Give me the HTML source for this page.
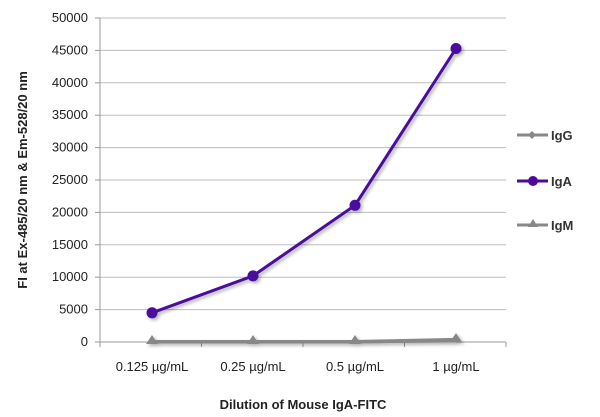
<!DOCTYPE html>
<html><head><style>body{margin:0;background:#fff}svg{display:block}text{font-family:"Liberation Sans",sans-serif}</style></head>
<body>
<svg width="600" height="417" viewBox="0 0 600 417" xmlns="http://www.w3.org/2000/svg">
<defs><filter id="sh" x="-10%" y="-10%" width="130%" height="130%"><feDropShadow dx="2" dy="2" stdDeviation="1.5" flood-color="#000" flood-opacity="0.3"/></filter></defs>
<g stroke="#bdbdbd" stroke-width="1">
<line x1="100" x2="506" y1="18" y2="18"/><line x1="100" x2="506" y1="50.4" y2="50.4"/><line x1="100" x2="506" y1="82.8" y2="82.8"/><line x1="100" x2="506" y1="115.2" y2="115.2"/><line x1="100" x2="506" y1="147.6" y2="147.6"/><line x1="100" x2="506" y1="180" y2="180"/><line x1="100" x2="506" y1="212.4" y2="212.4"/><line x1="100" x2="506" y1="244.8" y2="244.8"/><line x1="100" x2="506" y1="277.2" y2="277.2"/><line x1="100" x2="506" y1="309.6" y2="309.6"/>
</g>
<g stroke="#999" stroke-width="1">
<line x1="100" x2="100" y1="18" y2="342"/>
<line x1="95" x2="506" y1="342" y2="342"/>
<line x1="95" x2="100" y1="18" y2="18"/><line x1="95" x2="100" y1="50.4" y2="50.4"/><line x1="95" x2="100" y1="82.8" y2="82.8"/><line x1="95" x2="100" y1="115.2" y2="115.2"/><line x1="95" x2="100" y1="147.6" y2="147.6"/><line x1="95" x2="100" y1="180" y2="180"/><line x1="95" x2="100" y1="212.4" y2="212.4"/><line x1="95" x2="100" y1="244.8" y2="244.8"/><line x1="95" x2="100" y1="277.2" y2="277.2"/><line x1="95" x2="100" y1="309.6" y2="309.6"/>
<line x1="100" x2="100" y1="342" y2="347"/><line x1="201.5" x2="201.5" y1="342" y2="347"/><line x1="303" x2="303" y1="342" y2="347"/><line x1="404.5" x2="404.5" y1="342" y2="347"/><line x1="506" x2="506" y1="342" y2="347"/>
</g>
<g font-size="13" fill="#222" text-anchor="end">
<text x="88" y="22">50000</text><text x="88" y="54.4">45000</text><text x="88" y="86.8">40000</text><text x="88" y="119.2">35000</text><text x="88" y="151.6">30000</text><text x="88" y="184">25000</text><text x="88" y="216.4">20000</text><text x="88" y="248.8">15000</text><text x="88" y="281.2">10000</text><text x="88" y="313.6">5000</text><text x="88" y="346">0</text>
</g>
<g font-size="13" fill="#222" text-anchor="middle">
<text x="152" y="371">0.125 µg/mL</text><text x="253" y="371">0.25 µg/mL</text><text x="355" y="371">0.5 µg/mL</text><text x="456" y="371">1 µg/mL</text>
</g>
<text x="303" y="409" font-size="13" font-weight="bold" text-anchor="middle" fill="#222">Dilution of Mouse IgA-FITC</text>
<text transform="translate(27,180) rotate(-90)" font-size="13" font-weight="bold" text-anchor="middle" fill="#222">FI at Ex-485/20 nm &amp; Em-528/20 nm</text>
<g filter="url(#sh)">
<polyline points="152,342 253,342 355,342 456,341" fill="none" stroke="#888" stroke-width="3"/>
<polyline points="152,341.5 253,341.5 355,341.5 456,339.4" fill="none" stroke="#888" stroke-width="3"/>
<g fill="#888"><polygon points="152,335 158,344 146,344"/><polygon points="253,335 259,344 247,344"/><polygon points="355,335 361,344 349,344"/><polygon points="456,333 462,342 450,342"/></g>
<polyline points="152,312.8 253,275.9 355,205.3 456,48.5" fill="none" stroke="#4b0a9e" stroke-width="3"/>
<g fill="#4b0a9e"><circle cx="152" cy="312.8" r="5.5"/><circle cx="253" cy="275.9" r="5.5"/><circle cx="355" cy="205.3" r="5.5"/><circle cx="456" cy="48.5" r="5.5"/></g>
</g>
<line x1="517" x2="548" y1="135" y2="135" stroke="#888" stroke-width="3"/><polygon points="532,131 536,135 532,139 528,135" fill="#888"/>
<line x1="517" x2="548" y1="181" y2="181" stroke="#4b0a9e" stroke-width="3"/><circle cx="533" cy="181" r="5" fill="#4b0a9e"/>
<line x1="517" x2="548" y1="225" y2="225" stroke="#888" stroke-width="3"/><polygon points="533,219 538,227 528,227" fill="#888"/>
<g font-size="13" font-weight="bold" fill="#333"><text x="551" y="140">IgG</text><text x="551" y="186">IgA</text><text x="551" y="230">IgM</text></g>
</svg>
</body></html>
